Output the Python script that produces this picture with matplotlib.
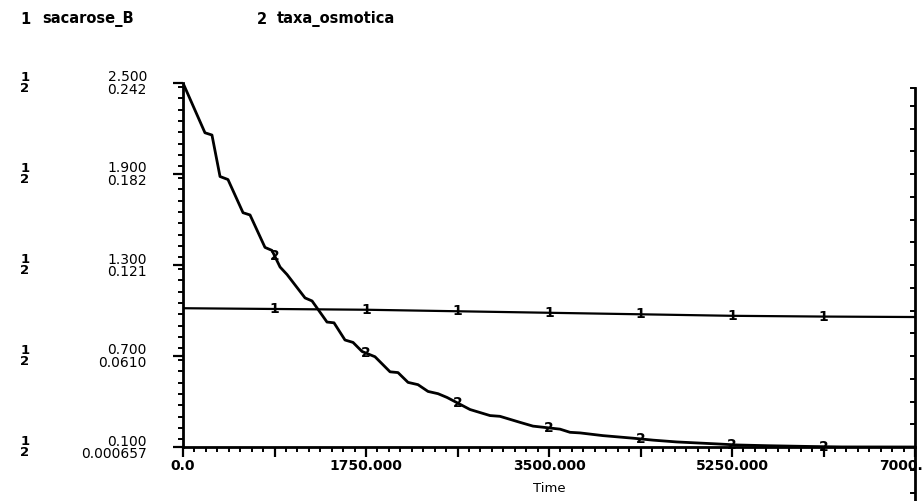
#!/usr/bin/env python3
import numpy as np
import matplotlib

matplotlib.use("Agg")
import matplotlib.pyplot as plt
from matplotlib.ticker import FixedLocator, MultipleLocator

# series 1: sacarose_B (left scale, upper numbers)
time_1 = [0, 875, 1750, 2625, 3500, 4375, 5250, 6125, 7000]
sacarose_b = [1.015, 1.010, 1.005, 0.995, 0.985, 0.975, 0.965, 0.960, 0.957]

# series 2: taxa_osmotica (left scale, lower numbers)
time_2 = [0, 210, 277, 354, 430, 574, 641, 784, 851, 928, 995, 1167, 1234,
          1377, 1444, 1549, 1626, 1712, 1836, 1980, 2056, 2152, 2247, 2343,
          2439, 2525, 2745, 2936, 3031, 3223, 3347, 3605, 3701, 3797, 4016,
          4303, 4495, 4724, 5107, 5300, 5600, 6000, 6300, 7000]
taxa_osmotica = [0.242, 0.209, 0.2075, 0.180, 0.178, 0.156, 0.1545, 0.133,
                 0.131, 0.120, 0.115, 0.0995, 0.0975, 0.0835, 0.083, 0.0716,
                 0.070, 0.064, 0.0605, 0.0505, 0.050, 0.0435, 0.042, 0.0375,
                 0.036, 0.0335, 0.0255, 0.0215, 0.021, 0.017, 0.0145, 0.0125,
                 0.0104, 0.0100, 0.0082, 0.0065, 0.0052, 0.0040, 0.0027,
                 0.0020, 0.0015, 0.0010, 0.0007, 0.000657]

y1_ticks = [0.1, 0.7, 1.3, 1.9, 2.5]
y1_labels = ["0.100", "0.700", "1.300", "1.900", "2.500"]
y2_labels = ["0.000657", "0.0610", "0.121", "0.182", "0.242"]
y2_range = (0.000657, 0.242)
x_ticks = [0, 875, 1750, 2625, 3500, 4375, 5250, 6125, 7000]
x_labels = ["0.0", "", "1750.000", "", "3500.000", "", "5250.000", "", "7000.000"]
marker_times = [875, 1750, 2625, 3500, 4375, 5250, 6125]

FW, FH = 922, 501
fig = plt.figure(figsize=(FW / 100, FH / 100), dpi=100)
ax = fig.add_axes([183 / FW, 1 - 447 / FH, 732 / FW, 364 / FH])
ax2 = ax.twinx()

for a in (ax, ax2):
    a.set_xlim(0, 7000)
    a.patch.set_visible(False)
    for s in a.spines.values():
        s.set_visible(False)
ax.set_ylim(y1_ticks[0], y1_ticks[-1])
ax2.set_ylim(*y2_range)
ax2.set_yticks([])

ax.spines["left"].set_visible(True)
ax.spines["bottom"].set_visible(True)
ax.spines["left"].set_linewidth(2.0)
ax.spines["bottom"].set_linewidth(2.0)

ax.yaxis.set_major_locator(FixedLocator(y1_ticks))
ax.set_yticklabels([f"{a}\n{b}" for a, b in zip(y1_labels, y2_labels)],
                   linespacing=0.82)
ax.yaxis.set_minor_locator(MultipleLocator(0.075))
ax.xaxis.set_major_locator(FixedLocator(x_ticks))
ax.set_xticklabels(x_labels, fontweight="bold")
ax.xaxis.set_minor_locator(MultipleLocator(109.375))

ax.tick_params(which="major", direction="out", length=7, width=1.6, color="black")
ax.tick_params(which="minor", direction="out", length=3.5, width=1.4, color="black")
ax.tick_params(axis="y", which="major", pad=19, labelsize=10)
ax.tick_params(axis="x", which="major", pad=2, labelsize=10)

# stacked series numbers next to the tick labels
yt = ax.get_yaxis_transform()
for v in y1_ticks:
    ax.text(-0.216, v, "1\n2", transform=yt, ha="center", va="center",
            fontsize=9.5, fontweight="bold", linespacing=0.78)

ax.set_xlabel("Time", fontsize=9.5, labelpad=6)

# curves
ax.plot(time_1, sacarose_b, color="black", lw=1.6, solid_joinstyle="round")
ax2.plot(time_2, taxa_osmotica, color="black", lw=2.0, solid_joinstyle="round")

for t in marker_times:
    ax.text(t, np.interp(t, time_1, sacarose_b), "1", ha="center", va="center",
            fontsize=10, fontweight="bold")
    ax2.text(t, np.interp(t, time_2, taxa_osmotica), "2", ha="center", va="center",
             fontsize=10, fontweight="bold")

# right frame line with inward ticks, running down past the time axis
ax.plot([1.0, 1.0], [-0.15, 0.987], transform=ax.transAxes, color="black",
        lw=2.0, clip_on=False)
for k in range(-2, 16):
    ax.plot([0.994, 1.0], [k / 16, k / 16], transform=ax.transAxes,
            color="black", lw=1.4, clip_on=False)
ax.plot([0.994, 1.0], [0.987, 0.987], transform=ax.transAxes,
        color="black", lw=1.4, clip_on=False)

# header legend
fig.text(25 / FW, 1 - 19 / FH, "1", fontsize=10.5, fontweight="bold",
         ha="center", va="center")
fig.text(42 / FW, 1 - 19 / FH, "sacarose_B", fontsize=10.5, fontweight="bold", va="center")
fig.text(262 / FW, 1 - 19 / FH, "2", fontsize=10.5, fontweight="bold",
         ha="center", va="center")
fig.text(277 / FW, 1 - 19 / FH, "taxa_osmotica", fontsize=10.5, fontweight="bold", va="center")

fig.savefig("out.png", dpi=100, facecolor="white")
plt.close(fig)
